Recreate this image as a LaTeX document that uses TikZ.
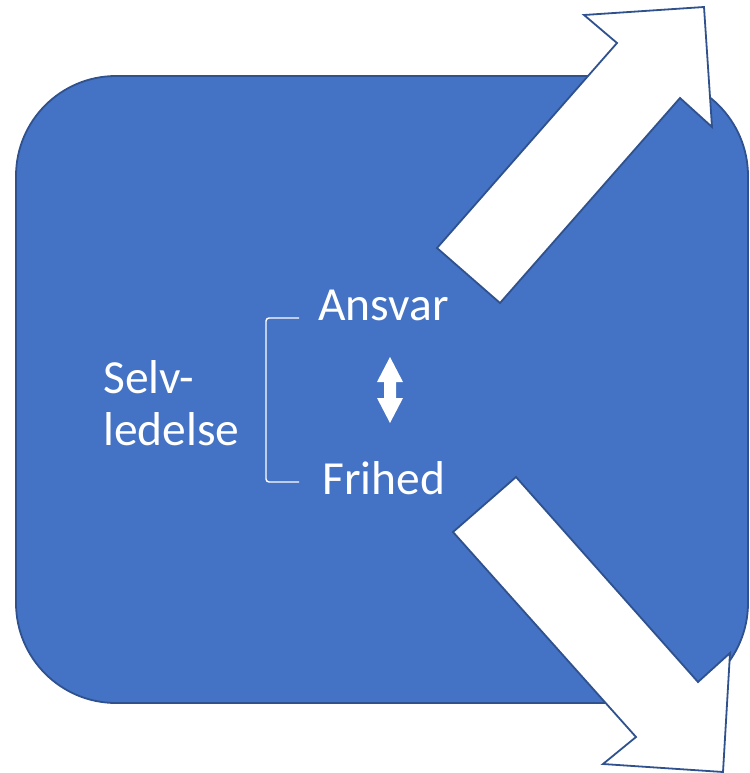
\documentclass[tikz,border=0pt]{standalone}
\usepackage{fontspec}
\setmainfont{Carlito}
\usetikzlibrary{positioning}
\definecolor{boxblue}{HTML}{4472C4}
\definecolor{edgeblue}{HTML}{2F528F}

\begin{document}
\begin{tikzpicture}[x=1pt,y=-1pt]
\tikzstyle{box} = [rectangle, draw=edgeblue, line width=1.8pt, fill=boxblue,
rounded corners=100pt, minimum width=732pt, minimum height=627pt, inner sep=0pt]
\tikzstyle{word} = [text=white, font=\fontsize{47.5}{54}\selectfont, inner sep=0pt, anchor=base west]
\tikzstyle{bigarrow} = [draw=edgeblue, line width=1.8pt, fill=white, line join=miter]
\tikzstyle{line} = [draw=white, line width=1.4pt, rounded corners=3pt];
\useasboundingbox (0,0) rectangle (749,773);
% the box
\node [box] (box) at (382,389.5) {};
% words
\node [word] (ansvar) at (318,320) {Ansvar};
\node [word] (frihed) at (322,494) {Frihed};
\node [word] (selv) at (103,393) {Selv-};
\node [word, below=52pt of selv.base west, anchor=base west] (ledelse) {ledelse};
% bracket
\coordinate (bt) at (299,318);
\coordinate (bb) at (299,482);
\path [line] (bt) -- (266,318) -- (266,482) -- (bb);
% up/down arrow
\fill [white] (390,357) -- (403,382) -- (396,382) -- (396,398) -- (403,398)
 -- (390,423) -- (377,398) -- (384,398) -- (384,382) -- (377,382) -- cycle;
% big arrows
\path [bigarrow] (437,248) -- (617,43) -- (584,15) -- (704,7) -- (712,127)
 -- (680,98) -- (500,303) -- cycle;
\path [bigarrow] (516,477) -- (698,682) -- (730,653) -- (723,772) -- (603,764)
 -- (636,737) -- (453,532) -- cycle;
\end{tikzpicture}
\end{document}
